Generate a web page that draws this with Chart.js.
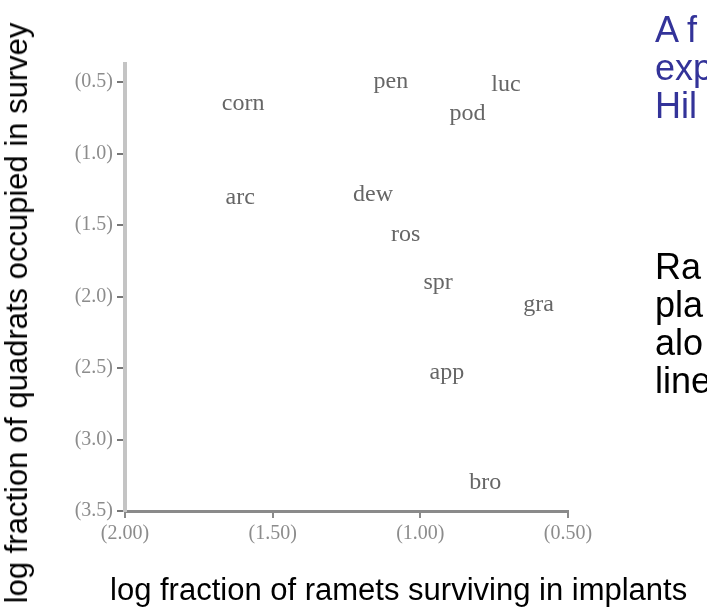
<!DOCTYPE html>
<html>
<head>
<meta charset="utf-8">
<script src="https://cdn.jsdelivr.net/npm/chart.js@4.4.1/dist/chart.umd.min.js"></script>
<style>
  html, body { margin: 0; padding: 0; background: #fff; overflow: hidden; }
  body { width: 707px; height: 611px; position: relative; font-family: "Liberation Sans", Arial, sans-serif; }
  #wrap { position: absolute; left: 0; top: 0; width: 707px; height: 611px; }
  .ytitle { position: absolute; left: 17px; top: 313px; transform: translate(-50%, -50%) rotate(-90deg); white-space: nowrap; font-size: 31px; color: #000; }
  .xtitle { position: absolute; left: 110px; top: 572px; white-space: nowrap; font-size: 31px; color: #000; }
  .side { position: absolute; left: 655px; white-space: nowrap; font-size: 36px; line-height: 38px; }
  .blue { top: 11px; color: #333399; }
  .black { top: 248px; color: #000; }
</style>
</head>
<body>
<div id="wrap"><canvas id="chart"></canvas></div>
<div class="ytitle">log fraction of quadrats occupied in survey</div>
<div class="xtitle">log fraction of ramets surviving in implants</div>
<div class="side blue">A f<br>exp<br>Hil</div>
<div class="side black">Ra<br>pla<br>alo<br>line</div>
<script>
// 種名ラベルとその座標（log値）
const species = ["corn", "arc", "pen", "luc", "pod", "dew", "ros", "spr", "gra", "app", "bro"];
const survival = [-1.60, -1.61, -1.10, -0.71, -0.84, -1.16, -1.05, -0.94, -0.60, -0.91, -0.78];
const occupancy = [-0.65, -1.31, -0.50, -0.52, -0.72, -1.29, -1.57, -1.90, -2.06, -2.53, -3.30];

// 軸の目盛り
const xTicks = [-2.0, -1.5, -1.0, -0.5];
const yTicks = [-3.5, -3.0, -2.5, -2.0, -1.5, -1.0, -0.5];

// 点の代わりに種名を描くプラグイン
const speciesLabels = {
  id: "speciesLabels",
  afterDatasetsDraw(chart) {
    const ctx = chart.ctx;
    const meta = chart.getDatasetMeta(0);
    ctx.save();
    ctx.font = "24px 'Liberation Serif', 'Times New Roman', serif";
    ctx.fillStyle = "#666";
    ctx.textAlign = "center";
    ctx.textBaseline = "middle";
    meta.data.forEach((pt, i) => {
      ctx.fillText(species[i], pt.x, pt.y);
    });
    ctx.restore();
  },
};

const points = survival.map((x, i) => ({ x, y: occupancy[i] }));

new Chart(document.getElementById("chart"), {
  type: "scatter",
  data: {
    datasets: [{ data: points, pointRadius: 0, pointHoverRadius: 0 }],
  },
  options: {
    responsive: true,
    maintainAspectRatio: false,
    animation: false,
    events: [],
    layout: { padding: { left: 0, top: 64, right: 139, bottom: 0 } },
    plugins: { legend: { display: false }, tooltip: { enabled: false } },
    scales: {
      x: {
        type: "linear",
        min: -2.0,
        max: -0.5,
        afterFit: (s) => { s.height = 100; },
        afterBuildTicks: (s) => { s.ticks = xTicks.map((v) => ({ value: v })); },
        border: { display: true, color: "#8a8a8a", width: 3 },
        grid: { drawOnChartArea: false, drawTicks: true, tickLength: 7, color: "#8a8a8a", lineWidth: 2 },
        ticks: {
          padding: 4,
          color: "#8c8c8c",
          font: { family: "'Liberation Serif', serif", size: 20 },
          maxRotation: 0,
          callback: (v) => "(" + Math.abs(v).toFixed(2) + ")",
        },
      },
      y: {
        type: "linear",
        min: -3.5,
        max: -0.374,
        afterFit: (s) => { s.width = 125; },
        afterBuildTicks: (s) => { s.ticks = yTicks.map((v) => ({ value: v })); },
        border: { display: true, color: "#c4c4c4", width: 4 },
        grid: { drawOnChartArea: false, drawTicks: true, tickLength: 8, color: "#777", lineWidth: 2 },
        ticks: {
          padding: 4,
          color: "#8c8c8c",
          font: { family: "'Liberation Serif', serif", size: 20 },
          callback: (v) => "(" + Math.abs(v).toFixed(1) + ")",
        },
      },
    },
  },
  plugins: [speciesLabels],
});
</script>
</body>
</html>
